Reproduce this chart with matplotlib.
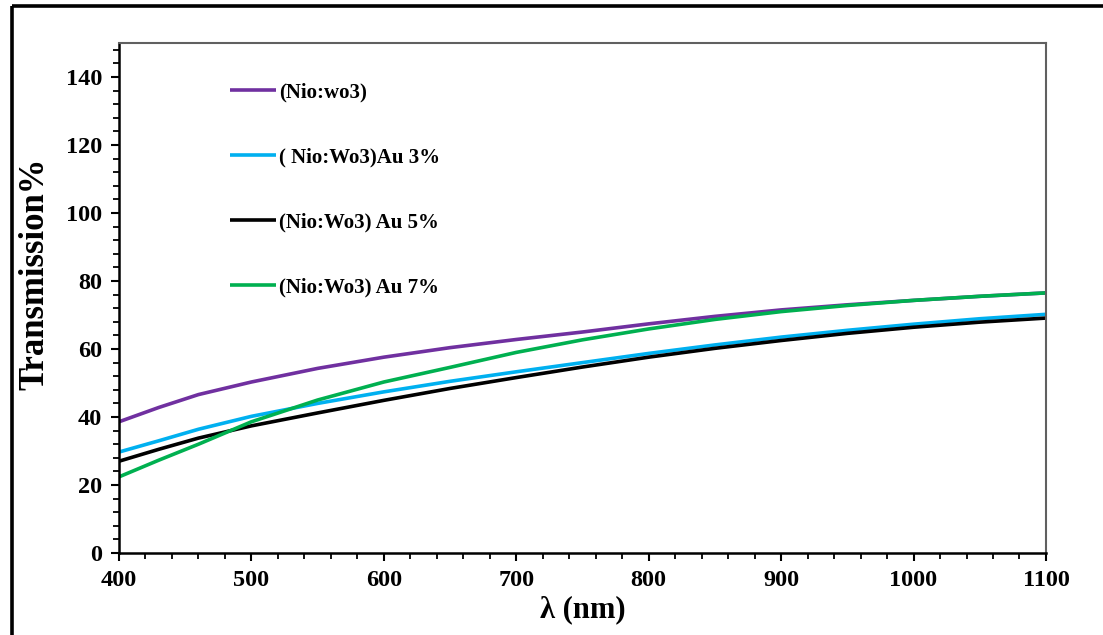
import matplotlib.pyplot as plt
from matplotlib.lines import Line2D
from matplotlib.ticker import MultipleLocator

# wavelength grid (nm) and transmission (%)
wl = [400, 430, 460, 500, 550, 600, 650, 700, 750, 800, 850, 900, 950, 1000, 1050, 1100]
t_nio = [38.6, 42.8, 46.6, 50.3, 54.3, 57.6, 60.4, 62.8, 65.0, 67.4, 69.6, 71.5, 73.0, 74.3, 75.5, 76.5]
t_au3 = [29.7, 33.0, 36.4, 40.2, 44.0, 47.4, 50.5, 53.3, 56.0, 58.7, 61.2, 63.5, 65.5, 67.3, 68.9, 70.2]
t_au5 = [27.0, 30.5, 33.8, 37.4, 41.2, 44.9, 48.4, 51.6, 54.7, 57.6, 60.2, 62.5, 64.6, 66.4, 67.9, 69.1]
t_au7 = [22.4, 27.3, 32.0, 38.6, 45.0, 50.3, 54.6, 59.0, 62.7, 65.9, 68.7, 71.0, 72.8, 74.3, 75.5, 76.5]

labels = ['(Nio:wo3)', '( Nio:Wo3)Au 3%', '(Nio:Wo3) Au 5%', '(Nio:Wo3) Au 7%']
colors = ['#7030A0', '#00B0F0', '#000000', '#00B050']

plt.rcParams['font.family'] = ['Liberation Serif', 'DejaVu Serif']

fig = plt.figure(figsize=(11.03, 6.35), dpi=100)
ax = fig.add_axes([0.1079, 0.1291, 0.8404, 0.8032])

for y, lab, c in zip([t_nio, t_au3, t_au5, t_au7], labels, colors):
  ax.plot(wl, y, color=c, lw=2.6, label=lab, solid_capstyle='butt')

ax.set_xlim(400, 1100)
ax.xaxis.set_major_locator(MultipleLocator(100))
ax.xaxis.set_minor_locator(MultipleLocator(20))
ax.yaxis.set_minor_locator(MultipleLocator(4))
ax.set_yticks(range(0, 141, 20))
ax.set_ylim(0, 150)

ax.tick_params(which='major', direction='out', length=6, width=1.5, labelsize=17.5, pad=6)
ax.tick_params(which='minor', direction='out', length=4, width=1.3)
for t in ax.get_xticklabels() + ax.get_yticklabels():
  t.set_fontweight('bold')

ax.spines['left'].set_linewidth(1.8)
ax.spines['bottom'].set_linewidth(1.8)
for s in ['top', 'right']:
  ax.spines[s].set_color('#606060')
  ax.spines[s].set_linewidth(1.5)

ax.set_xlabel('λ (nm)', fontsize=22, fontweight='bold', labelpad=3)
ax.set_ylabel('Transmission%', fontsize=25, fontweight='bold', labelpad=6)
ax.yaxis.set_label_coords(-0.073, 0.547)

leg = ax.legend(loc='upper left', bbox_to_anchor=(0.1, 0.96), frameon=False,
                prop={'weight': 'bold', 'size': 15}, handlelength=2.2,
                handletextpad=0.15, labelspacing=2.17)

# outer frame of the pasted figure (left and top edges only)
fig.add_artist(Line2D([0.0109, 0.0109], [0.0, 0.990], transform=fig.transFigure,
                      color='black', lw=2.6, solid_capstyle='butt'))
fig.add_artist(Line2D([0.0109, 1.0], [0.990, 0.990], transform=fig.transFigure,
                      color='black', lw=2.6, solid_capstyle='butt'))

fig.savefig('out.png', dpi=100)
